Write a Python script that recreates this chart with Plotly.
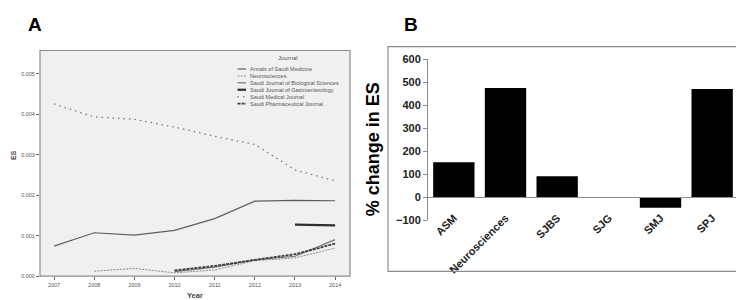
import plotly.graph_objects as go

W, H = 744, 300

# ---------------- Data: panel A ----------------
years = [2007, 2008, 2009, 2010, 2011, 2012, 2013, 2014]
asm = [0.00074, 0.00107, 0.00101, 0.00113, 0.00142, 0.00185, 0.00187, 0.00186]
neuro = [None, 0.00012, 0.00019, 0.00008, 0.00015, 0.00038, 0.00045, 0.00069]
sjbs = [None, None, None, 0.00011, 0.00022, 0.00040, 0.00049, 0.00090]
sjg = [None, None, None, None, None, None, 0.00127, 0.00125]
smj = [0.00425, 0.00393, 0.00387, 0.00368, 0.00345, 0.00325, 0.00262, 0.00235]
spj = [None, None, None, 0.00014, 0.00025, 0.00040, 0.00054, 0.00080]

journal_names = ["Annals of Saudi Medicine", "Neurosciences",
                 "Saudi Journal of Biological Sciences", "Saudi Journal of Gastroenterology",
                 "Saudi Medical Journal", "Saudi Pharmaceutical Journal"]
ytick_vals_a = [0.000, 0.001, 0.002, 0.003, 0.004, 0.005]

# ---------------- Data: panel B ----------------
abbrevs = ["ASM", "Neurosciences", "SJBS", "SJG", "SMJ", "SPJ"]
pct_change = [152, 475, 92, 0, -45, 470]
ytick_vals_b = [-100, 0, 100, 200, 300, 400, 500, 600]

series_a = [asm, neuro, sjbs, sjg, smj, spj]
styles = [
    dict(color="#5f5f5f", width=1.2, dash="solid"),
    dict(color="#8a8a8a", width=1.0, dash="2px,1.2px"),
    dict(color="#767676", width=1.2, dash="solid"),
    dict(color="#2e2e2e", width=2.2, dash="solid"),
    dict(color="#7a7a7a", width=1.3, dash="1.5px,4px"),
    dict(color="#3c3c3c", width=1.8, dash="3px,1px"),
]

def px_x(x):
    return x / W

def px_y(y):
    return (H - y) / H

fig = go.Figure()

for vals, name, st in zip(series_a, journal_names, styles):
    fig.add_trace(go.Scatter(x=years, y=vals, mode="lines", name=name,
                             line=st, connectgaps=False, showlegend=False,
                             xaxis="x", yaxis="y"))

fig.add_trace(go.Bar(x=abbrevs, y=pct_change, marker=dict(color="black", line=dict(width=0)),
                     showlegend=False, xaxis="x2", yaxis="y2"))

tickfont_a = dict(family="Liberation Sans", size=5.5, color="#555555")
boldfont_b = dict(family="Liberation Sans", size=11, color="#222222", weight="bold")

shapes = []
annotations = []

# Panel A plot background and frame
shapes.append(dict(type="rect", xref="paper", yref="paper",
                   x0=px_x(32), x1=px_x(342), y0=px_y(273), y1=px_y(38),
                   fillcolor="#f0f0f0", line=dict(color="#8c8c8c", width=1.2), layer="below"))

# Legend (manual)
annotations.append(dict(text="Journal", xref="paper", yref="paper", x=px_x(280), y=px_y(46),
                        showarrow=False, xanchor="center", yanchor="middle",
                        font=dict(family="Liberation Sans", size=6, color="#555555")))
row_y = [57.3, 64.5, 71.7, 78.9, 86.1, 93.3]
for name, st, ry in zip(journal_names, styles, row_y):
    shapes.append(dict(type="line", xref="paper", yref="paper",
                       x0=px_x(229.5), x1=px_x(238), y0=px_y(ry), y1=px_y(ry),
                       line=dict(color=st["color"], width=st["width"], dash=st["dash"])))
    annotations.append(dict(text=name, xref="paper", yref="paper", x=px_x(239.5), y=px_y(ry),
                            showarrow=False, xanchor="left", yanchor="middle",
                            font=dict(family="Liberation Sans", size=5.5, color="#555555")))

# Axis titles panel A
annotations.append(dict(text="<b>Year</b>", xref="paper", yref="paper", x=px_x(187), y=px_y(293),
                        showarrow=False, xanchor="center", yanchor="middle",
                        font=dict(family="Liberation Sans", size=7.5, color="#444444")))
annotations.append(dict(text="<b>ES</b>", xref="paper", yref="paper", x=px_x(5), y=px_y(147),
                        showarrow=False, xanchor="center", yanchor="middle", textangle=-90,
                        font=dict(family="Liberation Sans", size=7, color="#444444")))

# Panel labels
annotations.append(dict(text="<b>A</b>", xref="paper", yref="paper", x=px_x(27), y=px_y(11),
                        showarrow=False, xanchor="center", yanchor="middle",
                        font=dict(family="Liberation Sans", size=19, color="black")))
annotations.append(dict(text="<b>B</b>", xref="paper", yref="paper", x=px_x(403), y=px_y(11),
                        showarrow=False, xanchor="center", yanchor="middle",
                        font=dict(family="Liberation Sans", size=19, color="black")))

# Panel B frame
shapes.append(dict(type="rect", xref="paper", yref="paper",
                   x0=px_x(380), x1=px_x(737), y0=px_y(268), y1=px_y(34),
                   fillcolor="rgba(0,0,0,0)", line=dict(color="#8c8c8c", width=1.2)))

annotations.append(dict(text="<b>% change in ES</b>", xref="paper", yref="paper",
                        x=px_x(365), y=px_y(141), showarrow=False, textangle=-90,
                        xanchor="center", yanchor="middle",
                        font=dict(family="Liberation Sans", size=18, color="black")))

yb_dom = [px_y(215), px_y(47)]
zero_pos = yb_dom[0] + (0 - (-100)) / 700 * (yb_dom[1] - yb_dom[0])

fig.update_layout(
    width=W, height=H,
    margin=dict(l=0, r=0, t=0, b=0),
    paper_bgcolor="white", plot_bgcolor="rgba(0,0,0,0)",
    bargap=0.2,
    shapes=shapes, annotations=annotations,
    xaxis=dict(domain=[px_x(32), px_x(342)], range=[2006.65, 2014.37],
               tickvals=years, ticktext=[str(y) for y in years],
               ticks="outside", ticklen=3, tickcolor="#666666", tickwidth=1,
               tickfont=tickfont_a, showgrid=False, zeroline=False, showline=False,
               anchor="y"),
    yaxis=dict(domain=[px_y(273), px_y(38)], range=[0, 0.00557],
               tickvals=ytick_vals_a, tickformat=".3f",
               ticks="outside", ticklen=3, tickcolor="#666666", tickwidth=1,
               tickfont=tickfont_a, showgrid=False, zeroline=False, showline=False,
               anchor="x"),
    xaxis2=dict(domain=[px_x(420), px_x(730)], anchor="free", position=zero_pos,
                tickangle=-45, tickfont=boldfont_b, showgrid=False, zeroline=False,
                showline=True, linecolor="#8c8c8c", linewidth=1, ticks="",
                ticklabelstandoff=9),
    yaxis2=dict(domain=yb_dom, range=[-100, 600], tickvals=ytick_vals_b,
                ticks="outside", ticklen=4, tickcolor="#8c8c8c", tickwidth=1,
                tickfont=boldfont_b, showgrid=False, zeroline=False,
                showline=True, linecolor="#8c8c8c", linewidth=1, anchor="x2"),
)

fig.write_html("out.html")
